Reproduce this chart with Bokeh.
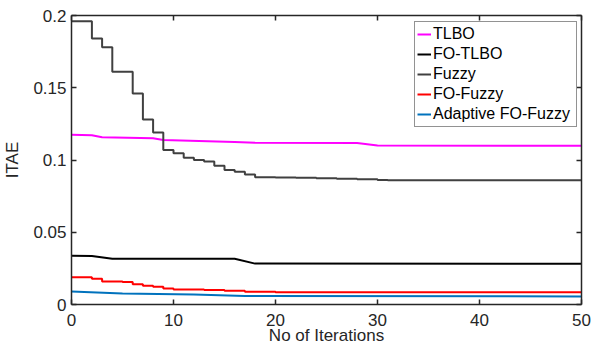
from bokeh.plotting import figure
from bokeh.models import LinearAxis, FixedTicker, CustomJSTickFormatter, Range1d
from bokeh.embed import file_html
from bokeh.resources import INLINE

# ---- data ----
x_ticks = [0, 10, 20, 30, 40, 50]
y_ticks = [0, 0.05, 0.1, 0.15, 0.2]

tlbo_x = [0, 2, 3, 8, 9, 16, 18, 28, 30, 50]
tlbo_y = [0.1175, 0.1172, 0.1158, 0.1150, 0.1138, 0.1125, 0.1120, 0.1118, 0.1100, 0.1098]

fotlbo_x = [0, 2, 4, 16, 18, 50]
fotlbo_y = [0.0337, 0.0336, 0.0316, 0.0316, 0.0283, 0.0282]

fuzzy_x = [0, 2, 3, 4, 6, 7, 8, 9, 10, 11, 12, 13, 14, 15, 16, 17, 18, 20, 22, 24, 26, 28, 30, 31, 50]
fuzzy_y = [0.196, 0.184, 0.178, 0.161, 0.146, 0.128, 0.119, 0.107, 0.1047, 0.1015, 0.100, 0.099,
           0.096, 0.093, 0.0918, 0.090, 0.0881, 0.0879, 0.0877, 0.0874, 0.0870, 0.0866, 0.0862,
           0.0860, 0.0860]

fofuzzy_x = [0, 2, 3, 5, 6, 7, 8, 9, 10, 13, 15, 17, 20, 50]
fofuzzy_y = [0.0189, 0.0178, 0.0160, 0.0155, 0.0141, 0.0130, 0.0122, 0.0111, 0.0104, 0.0101,
             0.0096, 0.0088, 0.0085, 0.0083]

adaptive_x = [0, 5, 12, 17, 50]
adaptive_y = [0.0090, 0.0076, 0.0070, 0.0059, 0.0056]

FONT = "Liberation Sans"
AX = "#262626"

p = figure(width=592, height=349, output_backend="svg", toolbar_location=None,
           x_range=Range1d(0, 50), y_range=Range1d(0, 0.2),
           min_border_left=68, min_border_right=11, min_border_top=15, min_border_bottom=45)
p.background_fill_color = "white"
p.border_fill_color = "white"
p.grid.visible = False
p.outline_line_color = None

p.line(tlbo_x, tlbo_y, line_color="#FF00FF", line_width=2, legend_label="TLBO")
p.line(fotlbo_x, fotlbo_y, line_color="#000000", line_width=2, legend_label="FO-TLBO")
p.step(fuzzy_x, fuzzy_y, mode="after", line_color="#404040", line_width=2, legend_label="Fuzzy")
p.step(fofuzzy_x, fofuzzy_y, mode="after", line_color="#FF0000", line_width=2, legend_label="FO-Fuzzy")
p.line(adaptive_x, adaptive_y, line_color="#0072BD", line_width=2, legend_label="Adaptive FO-Fuzzy")

fmt = CustomJSTickFormatter(code="return String(+tick.toFixed(2));")
blank = CustomJSTickFormatter(code="return '';")

def style(ax):
    ax.axis_line_color = AX
    ax.axis_line_width = 1.5
    ax.major_tick_line_color = AX
    ax.major_tick_line_width = 1.5
    ax.major_tick_in = 5
    ax.major_tick_out = 0
    ax.minor_tick_line_color = None
    ax.major_label_text_font = FONT
    ax.major_label_text_color = AX
    ax.major_label_text_font_size = "17px"

xa = p.xaxis[0]
ya = p.yaxis[0]
xa.ticker = FixedTicker(ticks=x_ticks)
ya.ticker = FixedTicker(ticks=y_ticks)
xa.formatter = fmt
ya.formatter = fmt
style(xa)
style(ya)
xa.axis_label = "No of Iterations"
ya.axis_label = "ITAE"
for a in (xa, ya):
    a.axis_label_text_font = FONT
    a.axis_label_text_font_size = "17px"
    a.axis_label_text_font_style = "normal"
    a.axis_label_text_color = AX
xa.major_label_standoff = 9
xa.axis_label_standoff = -3
ya.major_label_standoff = 5
ya.axis_label_standoff = 8

top = LinearAxis(ticker=FixedTicker(ticks=x_ticks), formatter=blank)
style(top)
top.major_label_standoff = 0
p.add_layout(top, "above")
right = LinearAxis(ticker=FixedTicker(ticks=y_ticks), formatter=blank)
style(right)
right.major_label_standoff = 0
p.add_layout(right, "right")

lg = p.legend[0]
lg.location = (343, 177)
lg.label_text_font = FONT
lg.label_text_font_size = "16px"
lg.label_text_color = "#000000"
lg.border_line_color = AX
lg.border_line_width = 1.5
lg.background_fill_color = "white"
lg.background_fill_alpha = 1
lg.padding = 2
lg.spacing = 0
lg.margin = 0
lg.label_height = 20
lg.glyph_height = 20
lg.glyph_width = 14
lg.label_standoff = 2
lg.label_width = 141

open("out.html", "w").write(file_html(p, INLINE))
